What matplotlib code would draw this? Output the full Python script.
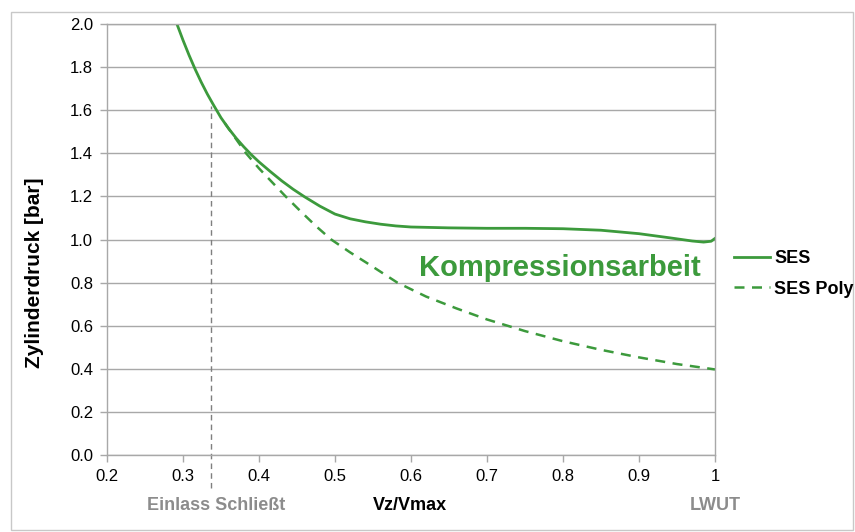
import matplotlib.pyplot as plt
from matplotlib.patches import Rectangle

# Cylinder pressure over relative volume during compression
ses_x = [0.292, 0.300, 0.308, 0.316, 0.324, 0.332, 0.340, 0.350, 0.360, 0.370, 0.380,
         0.390, 0.400, 0.415, 0.430, 0.445, 0.460, 0.480, 0.500, 0.520, 0.540, 0.560,
         0.580, 0.600, 0.650, 0.700, 0.750, 0.800, 0.850, 0.900, 0.940, 0.970, 0.985,
         0.995, 1.000]
ses_y = [2.00, 1.925, 1.855, 1.79, 1.73, 1.675, 1.625, 1.565, 1.515, 1.47, 1.43,
         1.393, 1.36, 1.315, 1.272, 1.233, 1.198, 1.155, 1.118, 1.096, 1.082, 1.071,
         1.063, 1.058, 1.054, 1.052, 1.052, 1.05, 1.043, 1.027, 1.008, 0.993, 0.988,
         0.992, 1.005]

poly_x = [0.355, 0.370, 0.383, 0.400, 0.418, 0.435, 0.455, 0.475, 0.495, 0.520, 0.550,
          0.582, 0.620, 0.660, 0.700, 0.750, 0.800, 0.850, 0.900, 0.950, 1.000]
poly_y = [1.54, 1.465, 1.40, 1.33, 1.263, 1.20, 1.13, 1.062, 1.00, 0.94, 0.873,
          0.80, 0.735, 0.68, 0.629, 0.575, 0.528, 0.488, 0.453, 0.422, 0.397]

einlass_x = 0.337
einlass_top = 1.62

x_ticks = [0.2, 0.3, 0.4, 0.5, 0.6, 0.7, 0.8, 0.9, 1.0]
x_labels = ["0.2", "0.3", "0.4", "0.5", "0.6", "0.7", "0.8", "0.9", "1"]
y_ticks = [0.0, 0.2, 0.4, 0.6, 0.8, 1.0, 1.2, 1.4, 1.6, 1.8, 2.0]

GREEN = "#3C9A3C"
GRID = "#A8A8A8"
LABEL_GREY = "#8C8C8C"

plt.rcParams["font.family"] = ["Liberation Sans", "DejaVu Sans"]

fig = plt.figure(figsize=(8.55, 5.32), dpi=100)
fig.patches.append(Rectangle((11 / 855, 2 / 532), 842 / 855, 518 / 532,
                             transform=fig.transFigure, fill=False,
                             edgecolor="#C8C8C8", linewidth=1.0))

ax = fig.add_axes([107 / 855, 1 - 455 / 532, 608 / 855, 431 / 532])
ax.plot(ses_x, ses_y, color=GREEN, linewidth=2.0, label="SES")
ax.plot(poly_x, poly_y, color=GREEN, linewidth=1.8, linestyle=(0, (4, 3)), label="SES Poly")
ax.plot([einlass_x, einlass_x], [-0.153, einlass_top], color="#7F7F7F",
        linewidth=1.0, linestyle=(0, (4, 3)), clip_on=False)

ax.set_xlim(0.2, 1.0)
ax.set_ylim(0.0, 2.0)
ax.set_xticks(x_ticks)
ax.set_xticklabels(x_labels)
ax.set_yticks(y_ticks)
ax.set_yticklabels([f"{v:.1f}" for v in y_ticks])
ax.tick_params(axis="both", labelsize=12, color=GRID, length=5, width=1.0, pad=5)
ax.grid(axis="y", color=GRID, linewidth=1.0)
ax.set_axisbelow(True)
for side in ax.spines.values():
    side.set_color(GRID)
    side.set_linewidth(1.0)

fig.text(34 / 855, 1 - 273 / 532, "Zylinderdruck [bar]", fontsize=15, fontweight="bold",
         rotation=90, ha="center", va="center")
fig.text(410 / 855, 1 - 506 / 532, "Vz/Vmax", fontsize=13, fontweight="bold",
         ha="center", va="center")
fig.text(216 / 855, 1 - 506 / 532, "Einlass Schließt", fontsize=13, fontweight="bold",
         color=LABEL_GREY, ha="center", va="center")
fig.text(715 / 855, 1 - 506 / 532, "LWUT", fontsize=13, fontweight="bold",
         color=LABEL_GREY, ha="center", va="center")

ax.text(0.796, 0.868, "Kompressionsarbeit", fontsize=21, fontweight="bold", color=GREEN,
        ha="center", va="center")

fig.legend(loc="center left", bbox_to_anchor=(718 / 855, 1 - 274 / 532), frameon=False,
           prop={"weight": "bold", "size": 13}, handlelength=2.0, handletextpad=0.2,
           labelspacing=0.75)

fig.savefig("out.png", dpi=100)
